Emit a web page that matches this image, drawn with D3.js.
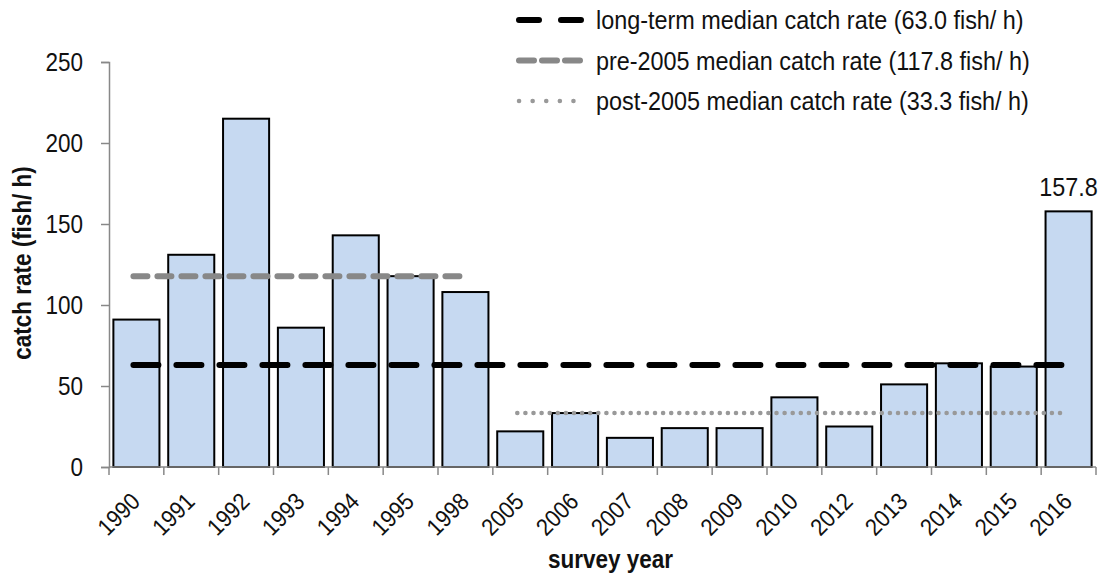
<!DOCTYPE html>
<html>
<head>
<meta charset="utf-8">
<script src="https://cdn.jsdelivr.net/npm/d3@7"></script>
<style>
  body { margin: 0; background: #fff; }
  text { font-family: "Liberation Sans", Arial, sans-serif; fill: #111; }
</style>
</head>
<body>
<div class="chart"></div>
<script>
// データ
const years = ["1990", "1991", "1992", "1993", "1994", "1995", "1998", "2005", "2006", "2007", "2008", "2009", "2010", "2012", "2013", "2014", "2015", "2016"];
const catchRates = [91, 131, 215, 86, 143, 117.8, 108, 22, 33.3, 18, 24, 24, 43, 25, 51, 64, 62, 157.8];
const yTicks = [0, 50, 100, 150, 200, 250];

const longTermMedian = 63.0;
const pre2005Median = 117.8;
const post2005Median = 33.3;
const legendLabels = [
    "long-term median catch rate (63.0 fish/ h)",
    "pre-2005 median catch rate (117.8 fish/ h)",
    "post-2005 median catch rate (33.3 fish/ h)"
];

// 細めの文字 (横方向に縮める)
const SQ = 0.9;

// サイズとマージン
const margin = { top: 62, right: 10, bottom: 110, left: 109 };
const width = 1106 - margin.left - margin.right;
const height = 577 - margin.top - margin.bottom;

const root = d3.select(".chart")
    .append("svg")
    .attr("width", 1106)
    .attr("height", 577);
const svg = root.append("g")
    .attr("transform", `translate(${margin.left},${margin.top})`);

// テキストを置く関数
function label(parent, tx, ty, rot, str, size, anchor, weight) {
    const g = parent.append("g")
        .attr("transform", `translate(${tx},${ty}) rotate(${rot}) scale(${SQ},1)`);
    g.append("text")
        .attr("text-anchor", anchor)
        .style("font-size", size + "px")
        .style("font-weight", weight || "normal")
        .text(str);
    return g;
}

// スケール
const x = d3.scaleBand().domain(years).range([0, width]).paddingInner(0.16).paddingOuter(0.08);
const y = d3.scaleLinear().domain([0, 250]).range([height, 0]);
const step = x.step();
const center = d => x(d) + x.bandwidth() / 2;

// 棒
svg.selectAll(".bar")
    .data(years)
    .enter()
    .append("rect")
    .attr("class", "bar")
    .attr("x", d => x(d))
    .attr("y", (d, i) => y(catchRates[i]))
    .attr("width", x.bandwidth())
    .attr("height", (d, i) => height - y(catchRates[i]))
    .attr("fill", "#c6d9f1")
    .attr("stroke", "#000")
    .attr("stroke-width", 2);

// 中央値の線
const lineStyles = [
    { color: "#000", dash: "25,18", w: 6 },
    { color: "#888", dash: "14,10", w: 6 },
    { color: "#999", dash: "0.1,8", w: 4.5 }
];
const medianLines = [
    { v: longTermMedian, from: years[0], to: years[years.length - 1], s: lineStyles[0] },
    { v: pre2005Median, from: "1990", to: "1998", s: lineStyles[1] },
    { v: post2005Median, from: "2005", to: "2016", s: lineStyles[2] }
];
svg.selectAll(".median")
    .data(medianLines)
    .enter()
    .append("line")
    .attr("class", "median")
    .attr("x1", d => center(d.from) - 3)
    .attr("x2", d => center(d.to) - 3)
    .attr("y1", d => y(d.v))
    .attr("y2", d => y(d.v))
    .attr("stroke", d => d.s.color)
    .attr("stroke-width", d => d.s.w)
    .attr("stroke-dasharray", d => d.s.dash)
    .attr("stroke-linecap", "round");

// Y軸
const yAxis = svg.append("g")
    .call(d3.axisLeft(y).tickValues(yTicks).tickSize(8).tickSizeOuter(8).tickPadding(17));
yAxis.select(".domain").attr("stroke", "#888").attr("stroke-width", 1.5);
yAxis.selectAll(".tick line").attr("stroke", "#888").attr("stroke-width", 1.5);
yAxis.selectAll(".tick text")
    .attr("x", -26 / SQ)
    .attr("transform", `scale(${SQ},1)`)
    .style("font-size", "25px");

// X軸
const xg = svg.append("g").attr("transform", `translate(0,${height})`);
xg.append("line")
    .attr("x1", 0).attr("x2", width)
    .attr("y1", 0).attr("y2", 0)
    .attr("stroke", "#888").attr("stroke-width", 1.5);
xg.selectAll(".xtick")
    .data(years.concat(["end"]))
    .enter()
    .append("line")
    .attr("x1", (d, i) => i * step)
    .attr("x2", (d, i) => i * step)
    .attr("y1", 0).attr("y2", 8)
    .attr("stroke", "#888").attr("stroke-width", 1.5);
years.forEach(d => {
    label(xg, center(d) + 5, 36, -45, d, 24, "end");
});

// 軸タイトル
label(svg, width / 2 + 8, 568 - margin.top, 0, "survey year", 25, "middle", "bold");
label(root, 31, 263, -90, "catch rate (fish/ h)", 25, "middle", "bold");

// 2016のラベル
const last = years.length - 1;
label(svg, center(years[last]), y(catchRates[last]) - 15, 0, catchRates[last].toFixed(1), 26, "middle");

// 凡例
const legend = root.append("g").attr("transform", "translate(516,20)");
const legendDash = ["20,22", "15,8", "0.1,13.5"];
legendLabels.forEach((t, i) => {
    const row = legend.append("g").attr("transform", `translate(0,${i * 40.5})`);
    row.append("line")
        .attr("x1", 3).attr("x2", 66)
        .attr("y1", 0).attr("y2", 0)
        .attr("stroke", lineStyles[i].color)
        .attr("stroke-width", lineStyles[i].w)
        .attr("stroke-dasharray", legendDash[i])
        .attr("stroke-linecap", "round");
    label(row, 80, 9, 0, t, 26, "start");
});
</script>
</body>
</html>
